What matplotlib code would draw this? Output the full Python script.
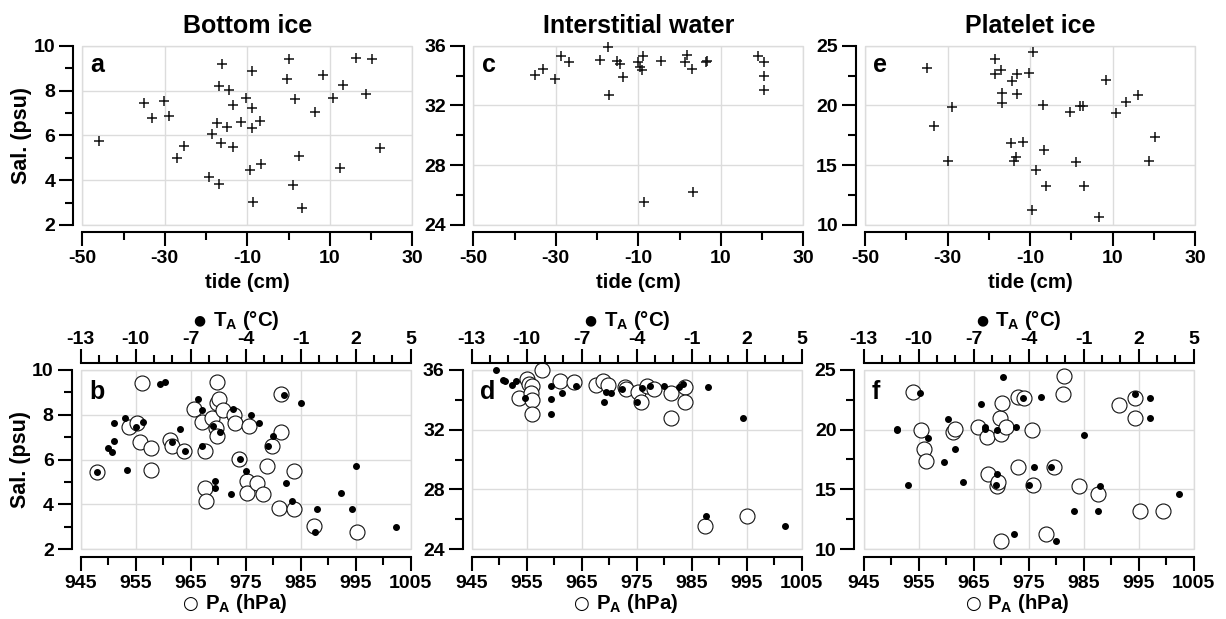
import matplotlib
matplotlib.use("Agg")
import matplotlib.pyplot as plt
from matplotlib.patches import Rectangle
from matplotlib.ticker import FixedLocator

plt.rcParams["font.family"] = ["Liberation Sans", "DejaVu Sans"]
plt.rcParams["font.weight"] = "bold"
plt.rcParams["axes.labelweight"] = "bold"
plt.rcParams["axes.unicode_minus"] = False
plt.rcParams["mathtext.fontset"] = "custom"
plt.rcParams["mathtext.rm"] = "Liberation Sans:bold"
plt.rcParams["mathtext.bf"] = "Liberation Sans:bold"
plt.rcParams["mathtext.it"] = "Liberation Sans:bold"

# ---- data: salinity vs tide (top row) -------------------------------------
tide_a = [-45.9, -35.0, -33.2, -30.2, -28.9, -27.1, -25.3, -19.2, -18.6, -16.9, -17.4,
          -16.8, -16.2, -16.4, -15.0, -14.4, -13.4, -13.4, -11.5, -10.2, -8.9, -8.9,
          -8.9, -6.9, -9.4, -6.8, -8.5, 0.0, -0.3, 1.6, 1.0, 2.6, 3.2, 6.5, 8.3, 10.8,
          13.1, 12.5, 16.3, 20.3, 18.8, 22.2]
sal_a = [5.75, 7.46, 6.76, 7.53, 6.86, 4.97, 5.54, 4.16, 6.04, 3.81, 6.54, 8.2, 9.17,
         5.64, 6.39, 8.02, 7.35, 5.49, 6.61, 7.65, 7.2, 6.34, 8.87, 6.64, 4.45, 4.72,
         3.01, 9.39, 8.51, 7.62, 3.78, 5.08, 2.74, 7.06, 8.68, 7.68, 8.25, 4.53, 9.46,
         9.39, 7.83, 5.45]

tide_c = [-35.0, -33.2, -30.2, -28.7, -26.9, -19.4, -17.4, -17.0, -15.2, -14.4, -13.7,
          -10.1, -9.5, -8.9, -9.1, -8.7, -4.4, 1.7, 1.4, 3.0, 3.3, 6.5, 6.7, 19.0, 20.4,
          20.4, 20.4]
sal_c = [34.04, 34.44, 33.77, 35.33, 34.88, 35.04, 35.93, 32.7, 34.97, 34.77, 33.88,
         34.88, 34.6, 35.31, 34.37, 25.56, 35.0, 35.38, 34.88, 34.44, 26.19, 34.93,
         34.95, 35.33, 34.93, 33.99, 33.03]

tide_e = [-34.9, -33.2, -30.0, -28.8, -18.6, -18.5, -17.0, -16.9, -16.7, -14.4, -13.1,
          -13.1, -14.6, -11.6, -13.8, -13.4, -10.2, -9.2, -6.9, -8.6, -6.5, -6.1, -9.4,
          -0.3, 2.1, 2.8, 1.1, 3.2, 6.7, 8.4, 10.8, 13.3, 16.3, 20.3, 18.9]
sal_e = [23.1, 18.31, 15.38, 19.84, 23.86, 22.6, 22.96, 21.07, 20.18, 22.04, 22.63,
         20.96, 16.89, 16.92, 15.38, 15.66, 22.74, 24.44, 20.04, 14.6, 16.27, 13.26,
         11.26, 19.48, 19.98, 19.98, 15.3, 13.26, 10.7, 22.13, 19.34, 20.26, 20.87,
         17.33, 15.35]

# ---- data: salinity vs air pressure (open) and air temperature (filled) ----
pa_b = [947.9, 953.8, 955.3, 956.2, 955.8, 957.7, 957.8, 961.2, 961.5, 963.8, 965.5,
        967.1, 967.5, 967.5, 967.7, 968.9, 969.7, 969.5, 969.8, 969.8, 970.2, 970.8,
        972.9, 973.0, 973.8, 975.6, 975.3, 975.3, 977.1, 978.2, 978.8, 979.7, 981.4,
        981.4, 981.1, 983.8, 983.8, 987.4, 995.2]
salp_b = [5.42, 7.47, 7.65, 9.4, 6.77, 6.53, 5.53, 6.87, 6.6, 6.38, 8.24, 7.66, 6.38,
          4.74, 4.16, 7.87, 9.45, 7.39, 7.06, 8.54, 8.69, 8.21, 7.99, 7.65, 6.02, 7.51,
          5.05, 4.52, 4.96, 4.46, 5.72, 6.6, 8.91, 7.24, 3.82, 5.5, 3.77, 3.03, 2.77]
ta_b = [-12.1, -11.5, -11.3, -11.2, -11.2, -10.6, -10.5, -10.0, -9.6, -8.7, -8.4, -7.6,
        -8.0, -7.3, -6.6, -6.4, -6.4, -5.8, -5.7, -5.7, -5.4, -4.8, -4.7, -4.3, -4.0,
        -3.7, -3.3, -2.8, -2.5, -1.9, -1.8, -1.5, -1.0, -0.2, -0.1, 1.2, 1.8, 2.0, 4.2]
salt_b = [5.42, 6.53, 6.35, 7.62, 6.84, 7.84, 5.53, 7.47, 7.66, 9.37, 9.45, 7.36, 6.77,
          6.38, 8.69, 8.21, 6.62, 7.51, 5.05, 4.71, 7.24, 4.46, 8.26, 6.02, 5.5, 7.99,
          7.62, 6.6, 7.06, 8.88, 4.96, 4.16, 8.54, 2.77, 3.77, 4.52, 3.79, 5.72, 3.0]

pa_d = [957.7, 955.0, 953.6, 955.4, 956.0, 955.7, 956.0, 956.0, 961.1, 963.6, 967.5,
        968.9, 969.8, 972.8, 973.0, 975.2, 975.7, 976.9, 978.2, 981.2, 981.2, 983.7,
        983.8, 987.4, 995.0]
salp_d = [36.0, 35.37, 34.1, 35.06, 34.93, 34.44, 33.99, 33.05, 35.28, 35.22, 35.0,
          35.28, 35.0, 34.84, 34.7, 34.5, 33.83, 34.93, 34.73, 34.48, 32.76, 34.88,
          33.88, 25.56, 26.23]
ta_d = [-11.7, -11.3, -11.2, -10.8, -10.6, -10.1, -8.7, -8.7, -8.7, -8.1, -7.3, -5.8,
        -5.7, -5.4, -4.8, -4.0, -3.7, -3.3, -2.5, -1.7, -1.5, -0.1, -0.2, 1.8, 4.1]
salt_d = [36.0, 35.33, 35.28, 35.0, 35.28, 34.1, 34.95, 34.03, 33.05, 34.44, 34.95,
          33.83, 34.5, 34.48, 34.7, 33.88, 34.77, 34.93, 34.95, 34.88, 35.06, 34.88,
          26.23, 32.76, 25.56]

pa_f = [954.0, 955.5, 956.0, 956.3, 961.2, 961.7, 965.8, 967.4, 967.7, 969.2, 969.5,
        969.8, 970.2, 970.0, 970.0, 970.9, 973.1, 973.1, 974.1, 975.6, 975.9, 978.2,
        979.7, 981.4, 981.2, 984.1, 987.7, 991.4, 994.4, 994.4, 995.3, 999.5]
salp_f = [23.13, 19.97, 18.35, 17.37, 19.83, 20.03, 20.25, 19.36, 16.28, 15.28, 15.64,
          20.95, 22.21, 19.64, 10.7, 20.25, 16.9, 22.77, 22.63, 19.97, 15.36, 11.26,
          16.9, 24.5, 22.96, 15.31, 14.61, 22.07, 22.68, 20.95, 13.21, 13.21]
ta_f = [-11.2, -11.2, -10.6, -9.9, -9.5, -8.6, -8.4, -8.0, -7.6, -6.6, -6.4, -6.4, -5.7,
        -5.7, -5.8, -5.4, -4.8, -4.7, -4.3, -4.0, -3.7, -3.3, -2.8, -2.5, -1.5, -1.0,
        -0.2, -0.1, 1.8, 2.6, 2.6, 4.2]
salt_f = [19.97, 20.05, 15.36, 23.1, 19.33, 17.32, 20.87, 18.35, 15.59, 22.15, 20.25,
          20.06, 19.97, 16.28, 15.36, 24.44, 11.26, 20.25, 22.63, 15.36, 16.9, 22.71,
          16.9, 10.7, 13.21, 19.55, 13.21, 15.28, 22.96, 22.68, 20.95, 14.61]

titles = ["Bottom ice", "Interstitial water", "Platelet ice"]
ylims = [(2, 10), (24, 36), (10, 25)]
yticks_major = [[2, 4, 6, 8, 10], [24, 28, 32, 36], [10, 15, 20, 25]]
yticks_minor = [[3, 5, 7, 9], [26, 30, 34], [12.5, 17.5, 22.5]]
tide_major = [-50, -30, -10, 10, 30]
tide_minor = [-40, -20, 0, 20]
pa_major = [945, 955, 965, 975, 985, 995, 1005]
pa_minor = [950, 960, 970, 980, 990, 1000]
ta_major = [-13, -10, -7, -4, -1, 2, 5]
ta_minor = list(range(-13, 6))

W, H = 1226, 619
GRID = "#dcdcdc"
TICK_FS = 14
LABEL_FS = 14.7


def px_axes(x0, y0, x1, y1):
    return fig.add_axes([x0 / W, 1 - y1 / H, (x1 - x0) / W, (y1 - y0) / H])


def frame(ax):
    ax.add_patch(Rectangle((0, 0), 1, 1, transform=ax.transAxes, fill=False,
                           ec=GRID, lw=1.0, zorder=0.5, clip_on=False))
    ax.grid(True, which="major", color=GRID, lw=1.0, zorder=0)
    ax.set_axisbelow(True)


def spines(ax, left_off, bottom_off):
    for s in ("top", "right"):
        ax.spines[s].set_visible(False)
    ax.spines["left"].set_position(("outward", left_off))
    ax.spines["bottom"].set_position(("outward", bottom_off))
    for s in ("left", "bottom"):
        ax.spines[s].set_linewidth(1.5)
    ax.tick_params(which="major", length=10, width=1.5, labelsize=TICK_FS, pad=3)
    ax.tick_params(which="minor", length=5.5, width=1.5)


def label_symbol(ax, label, symbol, size):
    # legend-like marker glyph placed just left of an axis label
    ax.annotate(symbol, xy=(0, 0.5), xycoords=label, xytext=(-5, 0),
                textcoords="offset points", ha="right", va="center",
                fontsize=size, family="DejaVu Sans", fontweight="normal")


fig = plt.figure(figsize=(W / 100, H / 100), dpi=100)
lefts = [82.3, 473.3, 865.0]
top_data = [(tide_a, sal_a), (tide_c, sal_c), (tide_e, sal_e)]
bot_data = [(pa_b, salp_b, ta_b, salt_b), (pa_d, salp_d, ta_d, salt_d),
            (pa_f, salp_f, ta_f, salt_f)]
letters_top = ["a", "c", "e"]
letters_bot = ["b", "d", "f"]

for i in range(3):
    x0 = lefts[i]
    # ---- top row: tide ---- #
    ax = px_axes(x0, 45.7, x0 + 330, 225)
    frame(ax)
    tx, ty = top_data[i]
    ax.plot(tx, ty, ls="none", marker="+", ms=7.8, mew=1.1, color="#111111",
            zorder=3, clip_on=False)
    ax.set_xlim(-50, 30)
    ax.set_ylim(*ylims[i])
    ax.xaxis.set_major_locator(FixedLocator(tide_major))
    ax.xaxis.set_minor_locator(FixedLocator(tide_minor))
    ax.yaxis.set_major_locator(FixedLocator(yticks_major[i]))
    ax.yaxis.set_minor_locator(FixedLocator(yticks_minor[i]))
    spines(ax, 6.5, 5.3)
    ax.set_xlabel("tide (cm)", fontsize=LABEL_FS, labelpad=4)
    ax.set_title(titles[i], fontsize=18, fontweight="bold", pad=9.5)
    ax.text(0.025, 0.895, letters_top[i], transform=ax.transAxes, fontsize=18,
            fontweight="bold", va="center", ha="left")
    if i == 0:
        ax.set_ylabel("Sal. (psu)", fontsize=15.5, labelpad=1)

    # ---- bottom row: air pressure (bottom) and air temperature (top) ---- #
    bx = px_axes(x0 - 1.5, 370, x0 + 328.5, 549)
    frame(bx)
    p, sp, t, st = bot_data[i]
    bx.plot(p, sp, ls="none", marker="o", ms=10.8, mfc="white", mec="#111111",
            mew=0.8, zorder=3, clip_on=False)
    bx.set_xlim(945, 1005)
    bx.set_ylim(*ylims[i])
    bx.xaxis.set_major_locator(FixedLocator(pa_major))
    bx.xaxis.set_minor_locator(FixedLocator(pa_minor))
    bx.yaxis.set_major_locator(FixedLocator(yticks_major[i]))
    bx.yaxis.set_minor_locator(FixedLocator(yticks_minor[i]))
    spines(bx, 6.5, 5.8)
    bx.set_xlabel("P$_\\mathregular{A}$ (hPa)", fontsize=LABEL_FS, labelpad=0)
    label_symbol(bx, bx.xaxis.label, "\u25cb", 13)
    bx.text(0.025, 0.875, letters_bot[i], transform=bx.transAxes, fontsize=18,
            fontweight="bold", va="center", ha="left", zorder=5)
    if i == 0:
        bx.set_ylabel("Sal. (psu)", fontsize=15.5, labelpad=1)

    tw = bx.twiny()
    tw.plot(t, st, ls="none", marker="o", ms=4.0, color="black", zorder=4,
            clip_on=False)
    tw.set_xlim(-13, 5)
    tw.xaxis.set_major_locator(FixedLocator(ta_major))
    tw.xaxis.set_minor_locator(FixedLocator(ta_minor))
    for s in ("left", "right", "bottom"):
        tw.spines[s].set_visible(False)
    tw.spines["top"].set_position(("outward", 5))
    tw.spines["top"].set_linewidth(1.5)
    tw.tick_params(which="major", length=10, width=1.5, labelsize=TICK_FS, pad=0.5)
    tw.tick_params(which="minor", length=5.5, width=1.5)
    tw.set_xlabel("T$_\\mathregular{A}$ (\u00b0C)", fontsize=LABEL_FS, labelpad=4)
    label_symbol(tw, tw.xaxis.label, "\u25cf", 10)

fig.savefig("out.png", dpi=100)
